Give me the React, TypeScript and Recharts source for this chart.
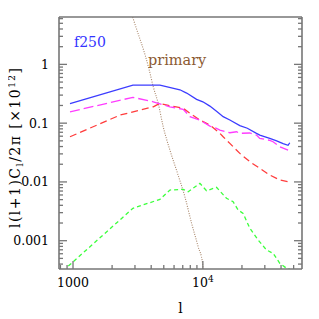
import React from 'react';
import { LineChart, Line, XAxis, YAxis, ReferenceDot } from 'recharts';

const X_DOMAIN: [number, number] = [780, 58000];
const Y_DOMAIN: [number, number] = [0.00033, 6.4];

const xMajor = [1000, 10000];
const xTicks = [800, 900, 1000, 2000, 3000, 4000, 5000, 6000, 7000, 8000, 9000, 10000, 20000, 30000, 40000, 50000];
const yMajor = [0.001, 0.01, 0.1, 1];
const yTicks = [
  0.0004, 0.0005, 0.0006, 0.0007, 0.0008, 0.0009, 0.001,
  0.002, 0.003, 0.004, 0.005, 0.006, 0.007, 0.008, 0.009, 0.01,
  0.02, 0.03, 0.04, 0.05, 0.06, 0.07, 0.08, 0.09, 0.1,
  0.2, 0.3, 0.4, 0.5, 0.6, 0.7, 0.8, 0.9, 1,
  2, 3, 4, 5, 6,
];
const yLabels: Record<string, string> = { '0.001': '0.001', '0.01': '0.01', '0.1': '0.1', '1': '1' };

const totalL = [948, 2894, 4670, 6653, 7500, 8944, 10000, 11320, 12740, 14330, 16130, 19260, 22000, 25880, 27430, 32750, 37000, 41470, 45310, 46690];
const totalV = [0.214, 0.445, 0.445, 0.37, 0.325, 0.254, 0.231, 0.195, 0.159, 0.129, 0.113, 0.091, 0.082, 0.0671, 0.0628, 0.0551, 0.05, 0.045, 0.042, 0.0464];

const magL = [948, 2894, 4150, 5572, 7050, 7943, 9485, 11320, 12740, 13520, 16130, 18170, 19260, 22990, 25880, 27430, 32750, 34730, 39100, 45310];
const magV = [0.156, 0.275, 0.231, 0.19, 0.172, 0.129, 0.113, 0.0893, 0.0816, 0.0763, 0.0687, 0.0714, 0.0671, 0.068, 0.0628, 0.0551, 0.051, 0.0483, 0.0397, 0.0349];

const redL = [948, 2299, 3275, 4150, 4670, 5572, 7050, 7943, 9485, 11320, 13520, 14330, 16130, 19260, 22990, 27430, 32750, 39100, 45310];
const redV = [0.0587, 0.137, 0.167, 0.19, 0.217, 0.198, 0.179, 0.147, 0.113, 0.093, 0.0671, 0.0587, 0.0453, 0.0306, 0.0221, 0.017, 0.0131, 0.0108, 0.0101];

const greenL = [920, 2894, 4670, 5572, 7050, 7710, 9485, 10670, 12740, 15210, 17100, 18700, 20420, 22990, 26630, 30900, 34730, 39100, 44030, 46690];
const greenV = [0.00037, 0.00356, 0.00506, 0.00728, 0.00748, 0.0068, 0.00946, 0.00708, 0.00809, 0.00526, 0.00461, 0.00333, 0.00292, 0.00163, 0.00103, 0.000695, 0.000611, 0.000413, 0.00034, 0.000327];

const primL = [2700, 2880, 3864, 4150, 4530, 4950, 5572, 6368, 7270, 8190, 9200, 9950, 10200];
const primV = [10, 6.37, 0.8, 0.416, 0.217, 0.0869, 0.0349, 0.0142, 0.0056, 0.00198, 0.000791, 0.000413, 0.0002];

const toRows = (ls: number[], vs: number[]) => ls.map((l, i) => ({ l, v: vs[i] }));

const FONT = 'DejaVu Serif';
const AXIS = '#767676';

const BottomTick = (props: any) => {
  const { x, y, payload } = props;
  const major = xMajor.includes(payload.value);
  const len = major ? 8 : 4;
  return (
    <g>
      <line x1={x} x2={x} y1={y} y2={y - len} stroke={AXIS} strokeWidth={1.3} />
      {payload.value === 1000 && (
        <text x={x} y={y + 18} textAnchor="middle" fontFamily={FONT} fontSize={12.5} fill="#000">1000</text>
      )}
      {payload.value === 10000 && (
        <text x={x} y={y + 18} textAnchor="middle" fontFamily={FONT} fontSize={12.5} fill="#000">
          10<tspan fontSize={9} dy={-5}>4</tspan>
        </text>
      )}
    </g>
  );
};

const TopTick = (props: any) => {
  const { x, y, payload } = props;
  const major = xMajor.includes(payload.value);
  const len = major ? 8 : 4;
  return <line x1={x} x2={x} y1={y} y2={y + len} stroke={AXIS} strokeWidth={1.3} />;
};

const LeftTick = (props: any) => {
  const { x, y, payload } = props;
  const major = yMajor.includes(payload.value);
  const len = major ? 8 : 4;
  const lab = yLabels[String(payload.value)];
  return (
    <g>
      <line x1={x} x2={x + len} y1={y} y2={y} stroke={AXIS} strokeWidth={1.3} />
      {lab && (
        <text x={x - 10} y={y + 4.5} textAnchor="end" fontFamily={FONT} fontSize={12.5} fill="#000">{lab}</text>
      )}
    </g>
  );
};

const RightTick = (props: any) => {
  const { x, y, payload } = props;
  const major = yMajor.includes(payload.value);
  const len = major ? 8 : 4;
  return <line x1={x} x2={x - len} y1={y} y2={y} stroke={AXIS} strokeWidth={1.3} />;
};

const TextLabel = (text: string, color: string, size: number) => (p: any) => {
  const vb = p.viewBox || {};
  return (
    <text x={vb.x} y={vb.y} fontFamily={FONT} fontSize={size} fill={color}>{text}</text>
  );
};

export default function App() {
  return (
    <div style={{ position: 'relative', width: 311, height: 311 }}>
      <LineChart width={311} height={311} margin={{ top: 0, right: 0, bottom: 0, left: 0 }}>
        <XAxis
          xAxisId={0}
          dataKey="l"
          type="number"
          scale="log"
          domain={X_DOMAIN}
          allowDataOverflow
          ticks={xTicks}
          interval={0}
          tickSize={0}
          tickMargin={0}
          tick={<BottomTick />}
          height={50}
          axisLine={{ stroke: AXIS, strokeWidth: 1.6 }}
          label={{ value: 'l', position: 'insideBottom', offset: 6, fontFamily: FONT, fontSize: 14, fill: '#000' }}
        />
        <XAxis
          xAxisId="top"
          orientation="top"
          type="number"
          scale="log"
          domain={X_DOMAIN}
          allowDataOverflow
          ticks={xTicks}
          interval={0}
          tickSize={0}
          tickMargin={0}
          tick={<TopTick />}
          height={9}
          axisLine={{ stroke: AXIS, strokeWidth: 1.6 }}
        />
        <YAxis
          yAxisId={0}
          type="number"
          scale="log"
          domain={Y_DOMAIN}
          allowDataOverflow
          ticks={yTicks}
          interval={0}
          tickSize={0}
          tickMargin={0}
          tick={<LeftTick />}
          width={51}
          axisLine={{ stroke: AXIS, strokeWidth: 1.6 }}
        />
        <YAxis
          yAxisId="right"
          orientation="right"
          type="number"
          scale="log"
          domain={Y_DOMAIN}
          allowDataOverflow
          ticks={yTicks}
          interval={0}
          tickSize={0}
          tickMargin={0}
          tick={<RightTick />}
          width={17}
          axisLine={{ stroke: AXIS, strokeWidth: 1.6 }}
        />
        <Line data={toRows(primL, primV)} dataKey="v" type="monotone" stroke="#a8866a" strokeWidth={1.1} strokeDasharray="1 1.4" dot={false} isAnimationActive={false} />
        <Line data={toRows(greenL, greenV)} dataKey="v" stroke="#3cff3c" strokeWidth={1.3} strokeDasharray="4 3" dot={false} isAnimationActive={false} />
        <Line data={toRows(redL, redV)} dataKey="v" stroke="#ff3c3c" strokeWidth={1.3} strokeDasharray="7 4" dot={false} isAnimationActive={false} />
        <Line data={toRows(magL, magV)} dataKey="v" stroke="#ff3cff" strokeWidth={1.3} strokeDasharray="10 4" dot={false} isAnimationActive={false} />
        <Line data={toRows(totalL, totalV)} dataKey="v" stroke="#3c3cff" strokeWidth={1.3} dot={false} isAnimationActive={false} />
        <ReferenceDot x={1018} y={1.97} r={0} stroke="none" fill="none" label={TextLabel('f250', '#3333ff', 14)} />
        <ReferenceDot x={3776} y={0.97} r={0} stroke="none" fill="none" label={TextLabel('primary', '#8c5a32', 14.5)} />
      </LineChart>
      <svg width={30} height={311} style={{ position: 'absolute', left: 0, top: 0, pointerEvents: 'none' }}>
        <text
          transform="translate(12,140) rotate(-90)"
          textAnchor="middle"
          fontFamily={FONT}
          fontSize={14}
          fill="#000"
          textLength={160}
          lengthAdjust="spacing"
        >
          l(l+1)C<tspan fontSize={10} dy={3}>l</tspan><tspan dy={-3}>/2π [×10</tspan><tspan fontSize={9} dy={-5}>12</tspan><tspan dy={5}>]</tspan>
        </text>
      </svg>
    </div>
  );
}
